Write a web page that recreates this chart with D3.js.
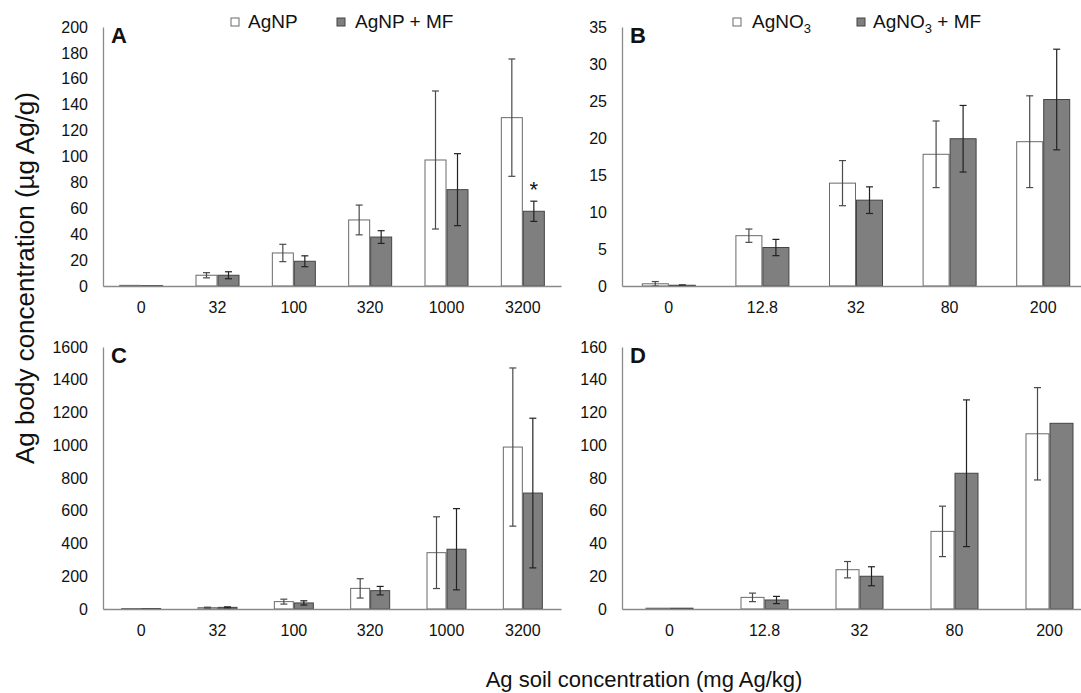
<!DOCTYPE html>
<html>
<head>
<meta charset="utf-8">
<script src="https://cdn.jsdelivr.net/npm/d3@7"></script>
<style>
  html, body { margin: 0; padding: 0; background: #fff; }
  svg { display: block; }
  text { font-family: "Liberation Sans", Arial, sans-serif; fill: #111; }
</style>
</head>
<body>
<svg id="chart" width="1081" height="693"></svg>
<script>
// ---------- DATA ----------
const seriesNP = ["AgNP", "AgNP + MF"];
const seriesNO3 = ["AgNO3", "AgNO3 + MF"];

// Panel A: AgNP body concentration
const catsA = ["0", "32", "100", "320", "1000", "3200"];
const aNP      = [0.5, 8.3, 25.5, 51.0, 97.3, 130.0];
const aNPerr   = [0.0, 2.0, 6.7, 11.5, 53.3, 45.3];
const aNPMF    = [0.3, 8.3, 19.1, 37.8, 74.4, 57.7];
const aNPMFerr = [0.0, 2.7, 4.2, 4.9, 27.8, 7.8];
const ticksA = [0, 20, 40, 60, 80, 100, 120, 140, 160, 180, 200];

// Panel B: AgNO3 body concentration
const catsB = ["0", "12.8", "32", "80", "200"];
const bNO3      = [0.3, 6.8, 13.9, 17.8, 19.5];
const bNO3err   = [0.3, 0.9, 3.05, 4.5, 6.2];
const bNO3MF    = [0.1, 5.2, 11.6, 19.9, 25.2];
const bNO3MFerr = [0.05, 1.1, 1.8, 4.5, 6.8];
const ticksB = [0, 5, 10, 15, 20, 25, 30, 35];

// Panel C: AgNP
const catsC = ["0", "32", "100", "320", "1000", "3200"];
const cNP      = [3, 8, 45, 126, 344, 989];
const cNPerr   = [0, 3, 15, 59, 219, 483];
const cNPMF    = [3, 10, 37, 112, 365, 708];
const cNPMFerr = [0, 3, 13, 26, 248, 457];
const ticksC = [0, 200, 400, 600, 800, 1000, 1200, 1400, 1600];

// Panel D: AgNO3
const catsD = ["0", "12.8", "32", "80", "200"];
const dNO3      = [0.5, 7.1, 24.0, 47.4, 107.0];
const dNO3err   = [0, 2.6, 5.0, 15.4, 28.2];
const dNO3MF    = [0.5, 5.5, 20.0, 82.9, 113.4];
const dNO3MFerr = [0, 2.2, 5.8, 44.8, 0];
const ticksD = [0, 20, 40, 60, 80, 100, 120, 140, 160];

// ---------- DRAW ----------
const svg = d3.select("#chart");
const fills = ["#ffffff", "#7f7f7f"];
const strokes = ["#6a6a6a", "#444444"];

function panel(cfg) {
  const g = svg.append("g");
  const x = d3.scaleBand().domain(cfg.cats).range(cfg.xr).paddingInner(0).paddingOuter(0);
  const y = d3.scaleLinear().domain([0, cfg.ymax]).range(cfg.yr);
  const bw = cfg.barW;
  const x1 = d3.scaleBand().domain([0, 1])
    .range([x.bandwidth() / 2 - bw, x.bandwidth() / 2 + bw]);

  const data = cfg.cats.map((c, i) => [
    { c, s: 0, v: cfg.v[0][i], e: cfg.e[0][i] },
    { c, s: 1, v: cfg.v[1][i], e: cfg.e[1][i] }
  ]).flat();

  // bars
  g.selectAll("rect.bar").data(data).enter().append("rect")
    .attr("x", d => x(d.c) + x1(d.s) + 0.5)
    .attr("y", d => y(d.v))
    .attr("width", x1.bandwidth() - 1)
    .attr("height", d => Math.max(0.5, y(0) - y(d.v)))
    .attr("fill", d => fills[d.s])
    .attr("stroke", d => strokes[d.s])
    .attr("stroke-width", 1);

  // error bars
  const eb = data.filter(d => d.e > 0);
  const cx = d => x(d.c) + x1(d.s) + x1.bandwidth() / 2;
  const cap = 3.5;
  const ecol = d => d.s === 0 ? "#4a4a4a" : "#222";
  g.selectAll("line.ev").data(eb).enter().append("line")
    .attr("x1", cx).attr("x2", cx)
    .attr("y1", d => y(d.v + d.e)).attr("y2", d => y(Math.max(0, d.v - d.e)))
    .attr("stroke", ecol).attr("stroke-width", 1.2);
  g.selectAll("line.et").data(eb).enter().append("line")
    .attr("x1", d => cx(d) - cap).attr("x2", d => cx(d) + cap)
    .attr("y1", d => y(d.v + d.e)).attr("y2", d => y(d.v + d.e))
    .attr("stroke", ecol).attr("stroke-width", 1.2);
  g.selectAll("line.eb").data(eb).enter().append("line")
    .attr("x1", d => cx(d) - cap).attr("x2", d => cx(d) + cap)
    .attr("y1", d => y(Math.max(0, d.v - d.e))).attr("y2", d => y(Math.max(0, d.v - d.e)))
    .attr("stroke", ecol).attr("stroke-width", 1.2);

  // y axis
  const ya = d3.axisLeft(y).tickValues(cfg.ticks).tickFormat(d3.format("d")).tickSize(0).tickPadding(15);
  const yg = g.append("g").attr("transform", `translate(${cfg.xr[0]},0)`).call(ya);
  yg.select(".domain").attr("stroke", "#8a8a8a").attr("stroke-width", 1.3);
  yg.selectAll("text").attr("font-size", 16).attr("fill", "#111")
    .attr("font-family", "Liberation Sans, Arial, sans-serif");

  // x axis
  const xa = d3.axisBottom(x).tickSize(0).tickPadding(16);
  const xg = g.append("g").attr("transform", `translate(0,${cfg.yr[0]})`).call(xa);
  xg.select(".domain").attr("stroke", "#8a8a8a").attr("stroke-width", 1.3);
  xg.selectAll("text").attr("font-size", 16).attr("fill", "#111")
    .attr("font-family", "Liberation Sans, Arial, sans-serif");

  // panel letter
  g.append("text").attr("x", cfg.xr[0] + 8).attr("y", cfg.yr[1] + 16)
    .attr("font-size", 22).attr("font-weight", "bold").text(cfg.letter);

  return { x, y, x1 };
}

const pA = panel({ cats: catsA, v: [aNP, aNPMF], e: [aNPerr, aNPMFerr], ymax: 200, ticks: ticksA,
  xr: [103, 561], yr: [286, 27], barW: 22, letter: "A" });
panel({ cats: catsB, v: [bNO3, bNO3MF], e: [bNO3err, bNO3MFerr], ymax: 35, ticks: ticksB,
  xr: [622, 1090], yr: [286, 27], barW: 27, letter: "B" });
panel({ cats: catsC, v: [cNP, cNPMF], e: [cNPerr, cNPMFerr], ymax: 1600, ticks: ticksC,
  xr: [103, 561], yr: [609, 347], barW: 20, letter: "C" });
panel({ cats: catsD, v: [dNO3, dNO3MF], e: [dNO3err, dNO3MFerr], ymax: 160, ticks: ticksD,
  xr: [622, 1097], yr: [609, 347], barW: 24, letter: "D" });

// significance asterisk on panel A, 3200 AgNP + MF
{
  const i = catsA.indexOf("3200");
  const cxv = pA.x("3200") + pA.x1(1) + pA.x1.bandwidth() / 2;
  svg.append("text").attr("x", cxv).attr("y", pA.y(aNPMF[i] + aNPMFerr[i]) - 4)
    .attr("text-anchor", "middle").attr("font-size", 22).text("*");
}

// legends
function legend(items, positions, y) {
  items.forEach((it, k) => {
    const [sx, tx] = positions[k];
    svg.append("rect").attr("x", sx).attr("y", y - 10).attr("width", 8).attr("height", 8)
      .attr("fill", fills[k]).attr("stroke", strokes[k]).attr("stroke-width", 1);
    const t = svg.append("text").attr("x", tx).attr("y", y).attr("font-size", 19);
    const m = it.match(/^(AgNO)3(.*)$/);
    if (m) {
      t.append("tspan").text(m[1]);
      t.append("tspan").attr("font-size", 13).attr("dy", 5).text("3");
      if (m[2]) t.append("tspan").attr("dy", -5).text(m[2]);
    } else {
      t.text(it);
    }
  });
}
legend(seriesNP, [[231, 248], [337, 355]], 28);
legend(seriesNO3, [[733, 752], [857, 873]], 28);

// axis titles
svg.append("text")
  .attr("transform", "translate(34,278) rotate(-90)")
  .attr("text-anchor", "middle").attr("font-size", 26)
  .text("Ag body concentration (µg Ag/g)");
svg.append("text")
  .attr("x", 644).attr("y", 687)
  .attr("text-anchor", "middle").attr("font-size", 22)
  .text("Ag soil concentration (mg Ag/kg)");
</script>
</body>
</html>
